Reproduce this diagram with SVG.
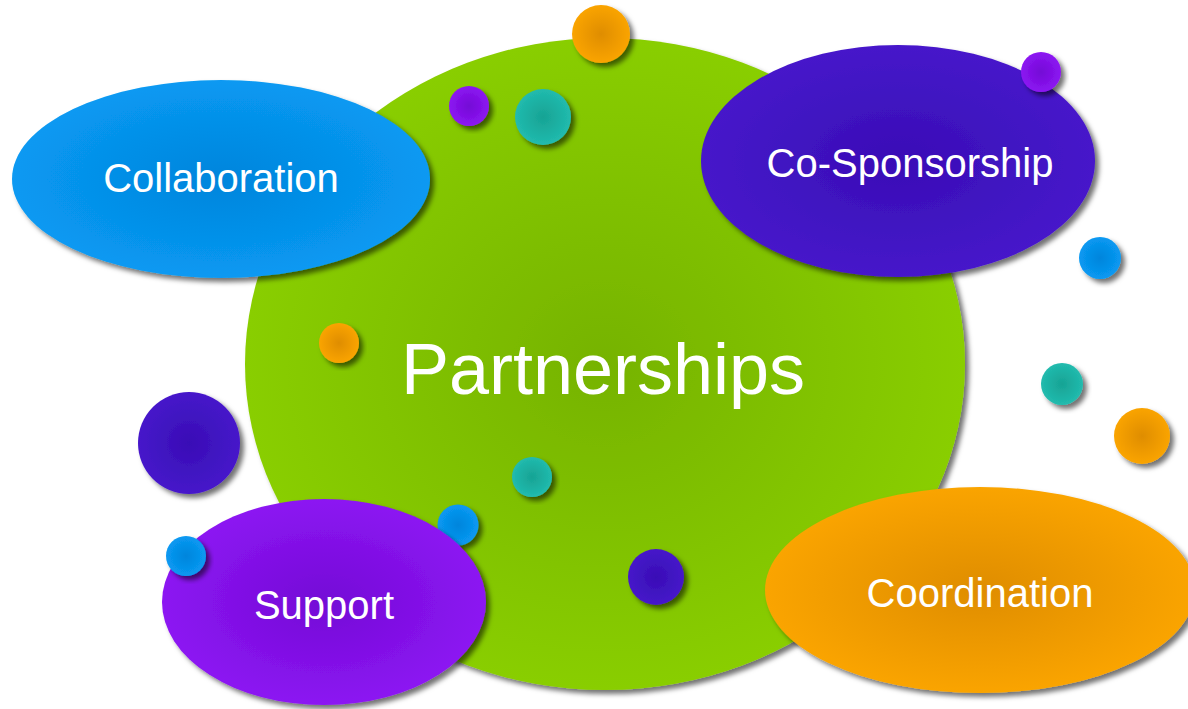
<svg xmlns="http://www.w3.org/2000/svg" width="1188" height="709" viewBox="0 0 1188 709">
<defs>
<filter id="sh" x="-20%" y="-20%" width="140%" height="140%">
<feDropShadow dx="4" dy="4" stdDeviation="2.5" flood-color="#000" flood-opacity="0.55"/>
</filter>
<radialGradient id="gGreen" cx="50%" cy="50%" r="50%"><stop offset="0" stop-color="#76b300"/><stop offset="1" stop-color="#89ce00"/></radialGradient>
<radialGradient id="gBlue" cx="50%" cy="50%" r="50%"><stop offset="0" stop-color="#0285dc"/><stop offset="1" stop-color="#0899f2"/></radialGradient>
<radialGradient id="gIndigo" cx="50%" cy="50%" r="50%"><stop offset="0" stop-color="#390db6"/><stop offset="1" stop-color="#4618ca"/></radialGradient>
<radialGradient id="gViolet" cx="50%" cy="50%" r="50%"><stop offset="0" stop-color="#740bd6"/><stop offset="1" stop-color="#8c15f2"/></radialGradient>
<radialGradient id="gOrange" cx="50%" cy="50%" r="50%"><stop offset="0" stop-color="#df8d00"/><stop offset="1" stop-color="#faa400"/></radialGradient>
<radialGradient id="gTeal" cx="50%" cy="50%" r="50%"><stop offset="0" stop-color="#17a394"/><stop offset="1" stop-color="#21bbae"/></radialGradient>
</defs>
<style>
.lbl{font-family:"Liberation Sans",Arial,sans-serif;fill:#fff;text-anchor:middle;font-size:40px}
.big{font-size:72px}
.s{filter:url(#sh)}
</style>
<g id="partnerships">
<ellipse class="s" cx="605" cy="364" rx="360" ry="326" fill="url(#gGreen)"/>
<text class="lbl big" x="603" y="394">Partnerships</text>
</g>
<g id="dot-orange-top"><circle class="s" cx="601" cy="34" r="29" fill="url(#gOrange)"/></g>
<g id="dot-violet-1"><circle class="s" cx="469" cy="106" r="20" fill="url(#gViolet)"/></g>
<g id="dot-teal-1"><circle class="s" cx="543" cy="117" r="28" fill="url(#gTeal)"/></g>
<g id="dot-orange-left"><circle class="s" cx="339" cy="343" r="20" fill="url(#gOrange)"/></g>
<g id="dot-teal-mid"><circle class="s" cx="532" cy="477" r="20" fill="url(#gTeal)"/></g>
<g id="dot-indigo-bottom"><circle class="s" cx="656" cy="577" r="28" fill="url(#gIndigo)"/></g>
<g id="dot-indigo-big"><ellipse class="s" cx="189" cy="443" rx="51" ry="51" fill="url(#gIndigo)"/></g>
<g id="dot-blue-right"><circle class="s" cx="1100" cy="258" r="21" fill="url(#gBlue)"/></g>
<g id="dot-teal-right"><circle class="s" cx="1062" cy="384" r="21" fill="url(#gTeal)"/></g>
<g id="dot-orange-right"><circle class="s" cx="1142" cy="436" r="28" fill="url(#gOrange)"/></g>
<g id="dot-blue-support-top"><circle class="s" cx="458" cy="525" r="20.5" fill="url(#gBlue)"/></g>
<g id="collaboration">
<ellipse class="s" cx="221" cy="179" rx="209" ry="99" fill="url(#gBlue)"/>
<text class="lbl" x="221" y="192">Collaboration</text>
</g>
<g id="co-sponsorship">
<ellipse class="s" cx="898" cy="161" rx="197" ry="116" fill="url(#gIndigo)"/>
<text class="lbl" x="910" y="177">Co-Sponsorship</text>
</g>
<g id="support">
<ellipse class="s" cx="324" cy="602" rx="162" ry="103" fill="url(#gViolet)"/>
<text class="lbl" x="324" y="619">Support</text>
</g>
<g id="coordination">
<ellipse class="s" cx="980" cy="590" rx="215" ry="103" fill="url(#gOrange)"/>
<text class="lbl" x="980" y="607">Coordination</text>
</g>
<g id="dot-violet-top-right"><circle class="s" cx="1041" cy="72" r="20" fill="url(#gViolet)"/></g>
<g id="dot-blue-support-left"><circle class="s" cx="186" cy="556" r="20" fill="url(#gBlue)"/></g>
<g id="connectors"></g>
</svg>
